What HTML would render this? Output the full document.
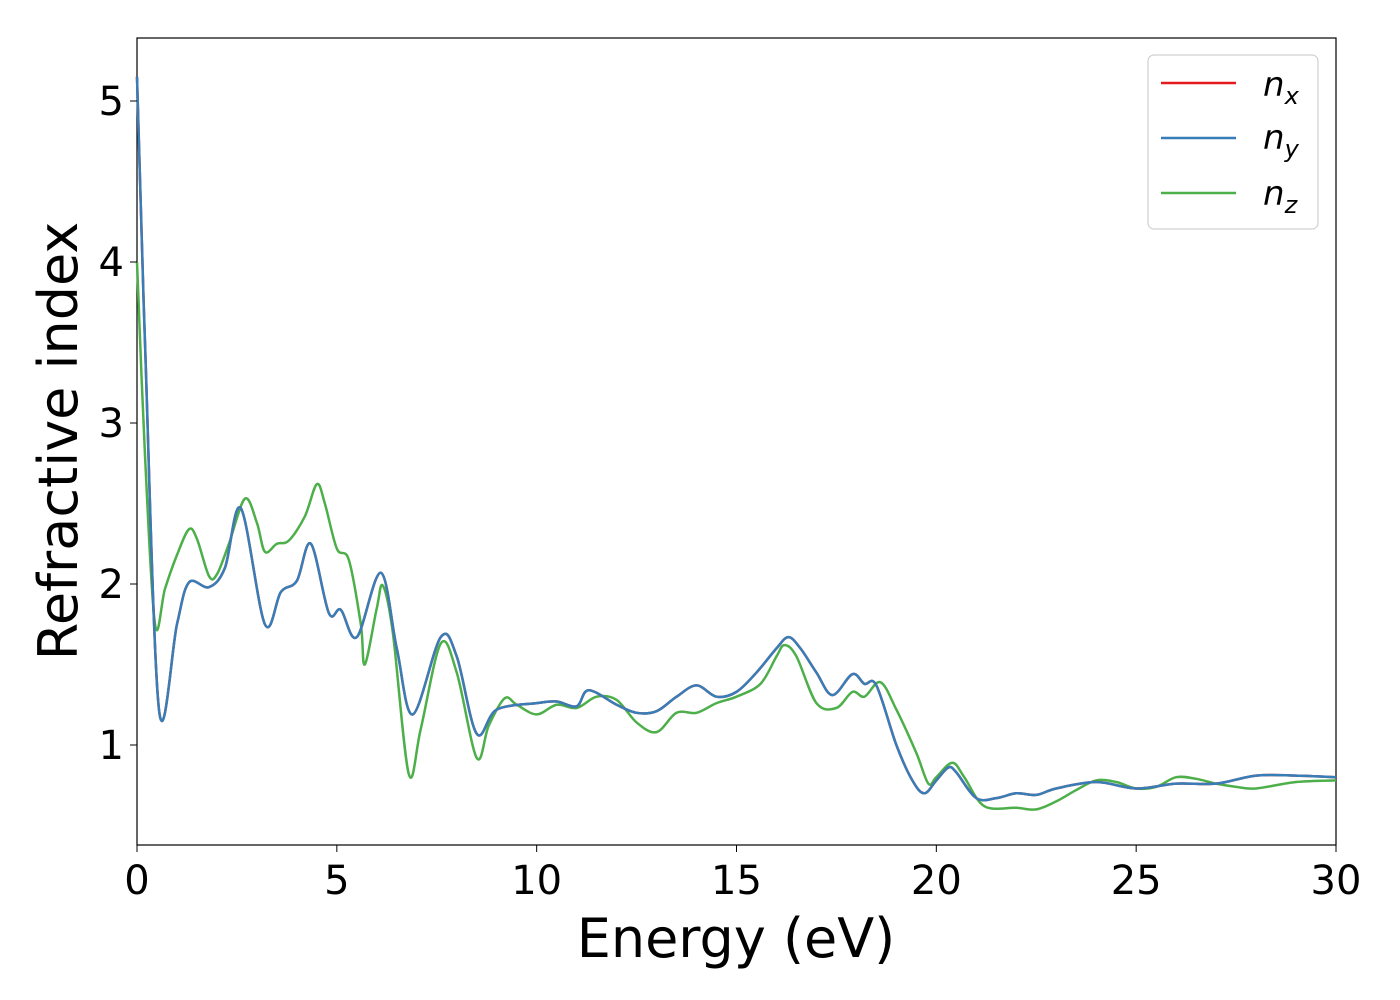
<!DOCTYPE html>
<html><head><meta charset="utf-8"><style>
body{margin:0;background:#fff}
svg{display:block;font-family:"DejaVu Sans","Liberation Sans",sans-serif}
</style></head><body>
<svg id="chart" width="1400" height="1000">
<rect x="137" y="38" width="1199" height="807" fill="none" stroke="#000" stroke-width="1.2"/>
<g id="series"></g>
<g id="ticks"></g>
<text x="736" y="957" font-size="54" text-anchor="middle">Energy (eV)</text>
<text transform="translate(77,441) rotate(-90)" font-size="54" text-anchor="middle">Refractive index</text>
<g>
<rect x="1148" y="55" width="170" height="174" rx="6" fill="#fff" stroke="#ccc" stroke-width="1.2" opacity="0.9"/>
<line x1="1161" y1="83" x2="1236" y2="83" stroke="#e41a1c" stroke-width="2.5"/>
<text x="1263" y="96" font-size="34" font-style="italic">n<tspan font-size="24" dy="8">x</tspan></text>
<line x1="1161" y1="138" x2="1236" y2="138" stroke="#377eb8" stroke-width="2.5"/>
<text x="1263" y="149" font-size="34" font-style="italic">n<tspan font-size="24" dy="8">y</tspan></text>
<line x1="1161" y1="193" x2="1236" y2="193" stroke="#4daf4a" stroke-width="2.5"/>
<text x="1263" y="205" font-size="34" font-style="italic">n<tspan font-size="24" dy="8">z</tspan></text>
</g>
</svg>
<script>
const energyXY=[0,0.2,0.55,1.0,1.3,1.8,2.2,2.6,3.2,3.6,4.0,4.35,4.8,5.1,5.5,6.1,6.5,6.9,7.6,8.0,8.5,9.0,10.0,10.5,11.0,11.3,12.0,12.5,13.0,13.5,14.0,14.5,15.0,15.5,16.0,16.3,16.6,17.0,17.4,17.9,18.2,18.5,19.0,19.4,19.7,20.0,20.3,20.5,21.0,21.5,22.0,22.5,23.0,24.0,25.0,26.0,27.0,28.0,29.0,30.0];
const nxValues=[5.15,3.5,1.22,1.75,2.01,1.98,2.1,2.47,1.75,1.95,2.02,2.25,1.82,1.84,1.67,2.07,1.6,1.19,1.67,1.55,1.07,1.22,1.26,1.27,1.24,1.34,1.25,1.2,1.21,1.3,1.37,1.3,1.33,1.45,1.6,1.67,1.6,1.45,1.31,1.44,1.38,1.37,1.0,0.78,0.7,0.78,0.86,0.83,0.67,0.67,0.7,0.69,0.73,0.77,0.73,0.76,0.76,0.81,0.81,0.80];
const nyValues=nxValues.slice();
const energyZ=[0,0.2,0.45,0.7,1.0,1.3,1.5,1.8,2.0,2.3,2.7,3.0,3.2,3.5,3.8,4.2,4.5,4.7,5.0,5.3,5.6,5.7,6.0,6.15,6.4,6.8,7.1,7.6,8.0,8.5,8.8,9.2,9.5,10.0,10.5,11.0,11.5,12.0,12.5,13.0,13.5,14.0,14.5,15.0,15.6,16.0,16.2,16.5,17.0,17.5,17.9,18.2,18.6,19.0,19.5,19.8,20.0,20.4,20.7,21.2,22.0,22.5,23.0,23.5,24.0,24.5,25.0,25.5,26.0,26.5,27.0,27.5,28.0,29.0,30.0];
const nzValues=[4.0,2.8,1.75,1.97,2.18,2.34,2.28,2.05,2.06,2.25,2.53,2.38,2.2,2.25,2.27,2.42,2.62,2.5,2.22,2.15,1.75,1.5,1.85,1.99,1.7,0.82,1.1,1.63,1.45,0.92,1.12,1.29,1.25,1.19,1.25,1.23,1.3,1.28,1.14,1.08,1.2,1.2,1.26,1.3,1.38,1.55,1.62,1.55,1.26,1.23,1.33,1.3,1.39,1.22,0.95,0.76,0.8,0.89,0.8,0.62,0.61,0.6,0.65,0.72,0.78,0.77,0.73,0.74,0.8,0.79,0.76,0.74,0.73,0.77,0.78];
const xTicks=[0,5,10,15,20,25,30];
const yTicks=[1,2,3,4,5];

const NS='http://www.w3.org/2000/svg';
const X=v=>137+v*(1199/30);
const Y=v=>745-(v-1)*161;
function pathD(xs,ys){
  const p=xs.map((x,i)=>[X(x),Y(ys[i])]);
  let d='M'+p[0][0]+','+p[0][1];
  for(let i=0;i<p.length-1;i++){
    const p0=p[Math.max(0,i-1)],p1=p[i],p2=p[i+1],p3=p[Math.min(p.length-1,i+2)];
    const c1=[p1[0]+(p2[0]-p0[0])/6,p1[1]+(p2[1]-p0[1])/6];
    const c2=[p2[0]-(p3[0]-p1[0])/6,p2[1]-(p3[1]-p1[1])/6];
    d+=' C'+c1+' '+c2+' '+p2;
  }
  return d;
}
const g=document.getElementById('series');
[[energyZ,nzValues,'#4daf4a','line-nz'],[energyXY,nxValues,'#e41a1c','line-nx'],[energyXY,nyValues,'#377eb8','line-ny']].forEach(s=>{
  const el=document.createElementNS(NS,'path');
  el.setAttribute('d',pathD(s[0],s[1]));
  el.setAttribute('fill','none');
  el.setAttribute('stroke',s[2]);
  el.setAttribute('stroke-width','2.5');
  
  
  g.appendChild(el);
});
const t=document.getElementById('ticks');
xTicks.forEach(v=>{
  const l=document.createElementNS(NS,'line');
  l.setAttribute('x1',X(v));l.setAttribute('x2',X(v));l.setAttribute('y1',845);l.setAttribute('y2',852);l.setAttribute('stroke','#000');
  
  
  t.appendChild(l);
  const tx=document.createElementNS(NS,'text');
  tx.setAttribute('x',X(v));tx.setAttribute('y',894);tx.setAttribute('font-size','40');tx.setAttribute('text-anchor','middle');
  tx.textContent=v;
  
  
  t.appendChild(tx);
});
yTicks.forEach(v=>{
  const l=document.createElementNS(NS,'line');
  l.setAttribute('x1',130);l.setAttribute('x2',137);l.setAttribute('y1',Y(v));l.setAttribute('y2',Y(v));l.setAttribute('stroke','#000');
  
  
  t.appendChild(l);
  const tx=document.createElementNS(NS,'text');
  tx.setAttribute('x',124);tx.setAttribute('y',Y(v)+14);tx.setAttribute('font-size','40');tx.setAttribute('text-anchor','end');
  tx.textContent=v;
  
  
  t.appendChild(tx);
});
</script>
</body></html>
